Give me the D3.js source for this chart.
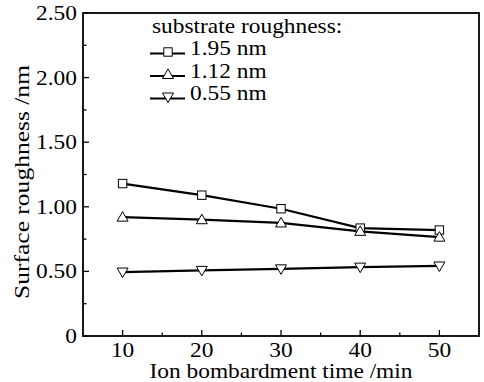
<!DOCTYPE html>
<html>
<head>
<meta charset="utf-8">
<script src="https://cdn.jsdelivr.net/npm/d3@7/dist/d3.min.js"></script>
<style>
  body { margin: 0; background: #fff; }
  svg text { font-family: "Liberation Serif", "DejaVu Serif", serif; fill: #000; font-size: 20px; }
</style>
</head>
<body>
<div id="chart"></div>
<script>
// ion bombardment time (min)
var times = [10, 20, 30, 40, 50];
// surface roughness (nm) for each substrate roughness
var rough195 = [1.18, 1.09, 0.985, 0.835, 0.82];
var rough112 = [0.92, 0.90, 0.875, 0.81, 0.765];
var rough055 = [0.495, 0.508, 0.52, 0.533, 0.542];
var seriesNames = ["1.95 nm", "1.12 nm", "0.55 nm"];
var seriesSymbols = ["square", "triangle", "triangleDown"];
var yTicks = [0, 0.5, 1.0, 1.5, 2.0, 2.5];
var xTicks = [10, 20, 30, 40, 50];

var width = 484, height = 382;
var margin = { top: 13, right: 5, bottom: 46, left: 83 };

var svg = d3.select("#chart").append("svg")
    .attr("width", width)
    .attr("height", height);

var x = d3.scaleLinear().domain([5, 55]).range([margin.left, width - margin.right]);
var y = d3.scaleLinear().domain([0, 2.5]).range([height - margin.bottom, margin.top]);

// the original font is wider than Liberation Serif, so stretch text a bit
var stretch = 1.17;
function addText(parent, tx, ty, str, anchor, rot) {
    return parent.append("text")
        .attr("transform", "translate(" + tx + "," + ty + ")" + (rot ? " rotate(" + rot + ")" : "") + " scale(" + stretch + ",1)")
        .attr("text-anchor", anchor || "start")
        .text(str);
}

// inward-pointing ticks
var g = svg.append("g");
var minorX = d3.range(15, 55, 10);
var minorY = d3.range(0.25, 2.5, 0.5);

xTicks.forEach(function (t) {
    g.append("line").attr("x1", x(t)).attr("x2", x(t))
        .attr("y1", y(0)).attr("y2", y(0) - 6)
        .attr("stroke", "#000").attr("stroke-width", 1.3);
    addText(g, x(t), 357, t, "middle");
});
minorX.forEach(function (t) {
    g.append("line").attr("x1", x(t)).attr("x2", x(t))
        .attr("y1", y(0)).attr("y2", y(0) - 3.5)
        .attr("stroke", "#000").attr("stroke-width", 1.3);
});
yTicks.forEach(function (t) {
    g.append("line").attr("x1", x(5)).attr("x2", x(5) + 6)
        .attr("y1", y(t)).attr("y2", y(t))
        .attr("stroke", "#000").attr("stroke-width", 1.3);
    addText(g, 77, y(t) + 7, t === 0 ? "0" : t.toFixed(2), "end");
});
minorY.forEach(function (t) {
    g.append("line").attr("x1", x(5)).attr("x2", x(5) + 3.5)
        .attr("y1", y(t)).attr("y2", y(t))
        .attr("stroke", "#000").attr("stroke-width", 1.3);
});

// frame
svg.append("rect")
    .attr("x", x(5)).attr("y", y(2.5))
    .attr("width", x(55) - x(5)).attr("height", y(0) - y(2.5))
    .attr("fill", "none").attr("stroke", "#000").attr("stroke-width", 1.8);

// axis titles
addText(svg, 281, 378, "Ion bombardment time /min", "middle");
svg.append("text")
    .attr("transform", "translate(29,182) rotate(-90)")
    .attr("text-anchor", "middle")
    .attr("textLength", 234)
    .attr("lengthAdjust", "spacingAndGlyphs")
    .text("Surface roughness /nm");

// series
var allSeries = [rough195, rough112, rough055];
var line = d3.line()
    .x(function (d, i) { return x(times[i]); })
    .y(function (d) { return y(d); });

function drawSymbol(sel, type, cx, cy) {
    var s = 4.2;
    if (type === "square") {
        sel.append("rect").attr("x", cx - s).attr("y", cy - s)
            .attr("width", 2 * s).attr("height", 2 * s)
            .attr("fill", "#fff").attr("stroke", "#000").attr("stroke-width", 1);
    } else if (type === "triangle") {
        sel.append("path")
            .attr("d", "M" + cx + "," + (cy - 5.5) + "L" + (cx + 5.5) + "," + (cy + 4) + "L" + (cx - 5.5) + "," + (cy + 4) + "Z")
            .attr("fill", "#fff").attr("stroke", "#000").attr("stroke-width", 1);
    } else {
        sel.append("path")
            .attr("d", "M" + cx + "," + (cy + 5.5) + "L" + (cx + 5.5) + "," + (cy - 4) + "L" + (cx - 5.5) + "," + (cy - 4) + "Z")
            .attr("fill", "#fff").attr("stroke", "#000").attr("stroke-width", 1);
    }
}

allSeries.forEach(function (vals) {
    svg.append("path").datum(vals)
        .attr("d", line)
        .attr("fill", "none").attr("stroke", "#000").attr("stroke-width", 2.2);
});
allSeries.forEach(function (vals, k) {
    var mg = svg.append("g");
    vals.forEach(function (v, i) {
        drawSymbol(mg, seriesSymbols[k], x(times[i]), y(v));
    });
});

// legend
var leg = svg.append("g");
addText(leg, 152, 33, "substrate roughness:");
seriesNames.forEach(function (name, k) {
    var base = 55 + k * 22.5;
    leg.append("line").attr("x1", 150).attr("x2", 185)
        .attr("y1", base - 1.5).attr("y2", base - 1.5)
        .attr("stroke", "#000").attr("stroke-width", 2.2);
    drawSymbol(leg, seriesSymbols[k], 168, base - 3);
    addText(leg, 190, base, name);
});
</script>
</body>
</html>
